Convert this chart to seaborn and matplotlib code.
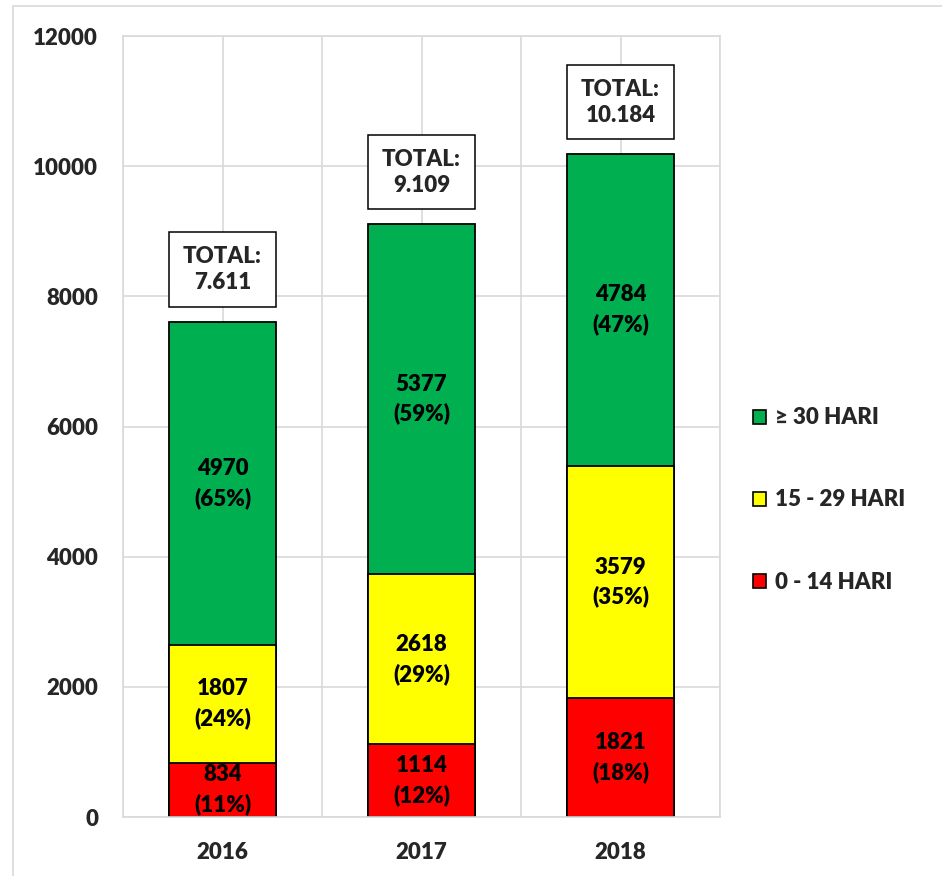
import matplotlib
matplotlib.use("Agg")
import matplotlib.pyplot as plt
from matplotlib.patches import Patch, Rectangle
import seaborn as sns
import pandas as pd
import numpy as np

years = ["2016", "2017", "2018"]
cat_labels = ["0 - 14 HARI", "15 - 29 HARI", "≥ 30 HARI"]
v_0_14 = [834, 1114, 1821]
v_15_29 = [1807, 2618, 3579]
v_30 = [4970, 5377, 4784]
colors = ["#FF0000", "#FFFF00", "#00B050"]
y_ticks = [0, 2000, 4000, 6000, 8000, 10000, 12000]

W = "heavy"

sns.set_theme(style="white")
plt.rcParams["font.family"] = ["Lato", "DejaVu Sans"]
plt.rcParams["font.weight"] = W

series = [v_0_14, v_15_29, v_30]
vals = np.array(series, dtype=float)
cum = np.cumsum(vals, axis=0)
totals = cum[-1]

fig = plt.figure(figsize=(9.42, 8.76), dpi=100)
ax = fig.add_axes([123 / 942, 1 - 817 / 876, (720 - 123) / 942, (817 - 36) / 876])

# figure border
fig.patches.append(Rectangle((13 / 942, -0.1), 1.2, 1 - 6 / 876 + 0.1,
                             transform=fig.transFigure, fill=False,
                             edgecolor="#d9d9d9", lw=1.2, zorder=0))

# draw cumulative bars from tallest to shortest
for i in range(len(series) - 1, -1, -1):
    df = pd.DataFrame({"year": years, "value": cum[i]})
    sns.barplot(data=df, x="year", y="value", order=years, color=colors[i],
                saturation=1, errorbar=None, width=0.54, edgecolor="black",
                linewidth=1.3, ax=ax, zorder=2)

# segment labels
for j in range(len(years)):
    for i in range(len(series)):
        bottom = cum[i - 1][j] if i > 0 else 0
        v = vals[i][j]
        pct = round(v / totals[j] * 100)
        ax.text(j, bottom + v / 2, f"{int(v)}\n({pct}%)", ha="center",
                va="center", fontsize=16, fontweight=W, linespacing=1.45,
                zorder=5, color="black")
    tot_str = f"{int(totals[j]):,}".replace(",", ".")
    ax.annotate(f"TOTAL:\n{tot_str}", xy=(j, totals[j]), xytext=(0, 20.5),
                textcoords="offset points", ha="center", va="bottom",
                fontsize=16, fontweight=W, linespacing=1.3, zorder=5,
                bbox=dict(boxstyle="square,pad=0.62", fc="white", ec="black", lw=1.1))

ax.set_ylim(0, 12000)
ax.set_xlim(-0.5, 2.5)
ax.set_yticks(y_ticks)
ax.set_yticklabels([str(t) for t in y_ticks])
ax.set_xticks(range(len(years)))
ax.set_xticks([-0.5, 0.5, 1.5, 2.5], minor=True)
ax.set_xlabel("")
ax.set_ylabel("")
ax.set_axisbelow(True)
ax.grid(True, which="both", axis="both", color="#d9d9d9", lw=1.2)
ax.tick_params(axis="both", which="both", length=0)
ax.tick_params(axis="y", pad=18, labelsize=16)
ax.tick_params(axis="x", pad=18, labelsize=16)
for lab in ax.get_xticklabels() + ax.get_yticklabels():
    lab.set_fontweight(W)
for s in ax.spines.values():
    s.set_color("#d9d9d9")
    s.set_linewidth(1.2)

handles = [Patch(facecolor=colors[i], edgecolor="black", lw=1.2, label=cat_labels[i])
           for i in range(len(series) - 1, -1, -1)]
fig.legend(handles=handles, loc="center left", bbox_to_anchor=(753 / 942, 1 - 500 / 876),
           frameon=False, borderpad=0, borderaxespad=0, handlelength=0.6,
           handleheight=0.6, handletextpad=0.4, labelspacing=2.75,
           prop={"size": 16, "weight": W})

fig.savefig("out.png", dpi=100)
